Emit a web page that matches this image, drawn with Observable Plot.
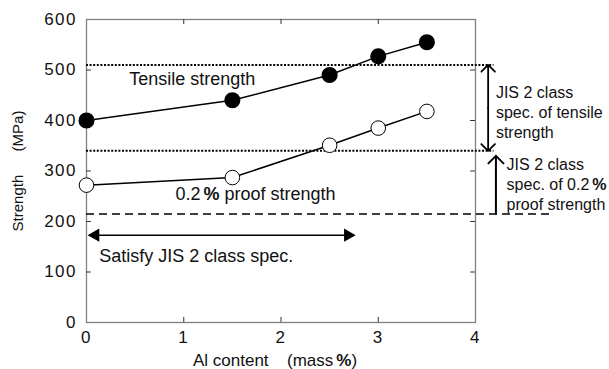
<!DOCTYPE html>
<html><head><meta charset="utf-8">
<script src="https://cdn.jsdelivr.net/npm/d3@7"></script>
<script src="https://cdn.jsdelivr.net/npm/@observablehq/plot@0.6"></script>
<style>body{margin:0;background:#fff} svg{font-family:"Liberation Sans",Arial,sans-serif}</style>
</head><body><div id="chart"></div>
<script>
// Data
const alContent = [0, 1.5, 2.5, 3, 3.5];
const tensileStrength = [400, 440, 490, 527, 555];
const proofStrength = [272, 287, 351, 385, 418];
const xTicks = [0, 1, 2, 3, 4];
const yTicks = [0, 100, 200, 300, 400, 500, 600];
const innerXTicks = [1, 2, 3];
const innerYTicks = [100, 200, 300, 400, 500];
const tensileSpecBounds = [510, 340];   // dotted lines
const proofSpecLevel = 215;             // dashed line
const satisfyRange = [0.03, 2.75];      // horizontal arrow extent (Al mass%)
const satisfyLevel = 173;
const proofArrowTop = 330;

// Annotation anchors (data units)
const labelTexts = ["Tensile strength", "0.2% proof strength", "Satisfy JIS 2 class spec."];
const labelX = [0.44, 0.915, 0.13];
const labelY = [481, 254, 132];
const sideTexts = ["JIS 2 class\nspec. of tensile\nstrength", "JIS 2 class\nspec. of 0.2%\nproof strength"];
const sideX = [4.21, 4.32];
const sideY = [417, 276];
const yTitle = "Strength\u2003\u00a0\u00a0(MPa)";
const xTitle = "Al content\u2003\u200a(mass%)";

const tensileData = alContent.map((x, i) => ({x, y: tensileStrength[i]}));
const proofData = alContent.map((x, i) => ({x, y: proofStrength[i]}));
const labels = labelTexts.map((t, i) => ({t, x: labelX[i], y: labelY[i]}));
const sides = sideTexts.map((t, i) => ({t, x: sideX[i], y: sideY[i]}));
const midTensile = (tensileSpecBounds[0] + tensileSpecBounds[1]) / 2;

const chart = Plot.plot({
  width: 609, height: 369,
  marginLeft: 86, marginRight: 134, marginTop: 19, marginBottom: 47,
  x: {domain: [0, 4]},
  y: {domain: [0, 600]},
  style: {fontFamily: "Liberation Sans, Arial, sans-serif", background: "white"},
  marks: [
    Plot.frame({stroke: "#808080", strokeWidth: 1.3}),
    Plot.ruleX(innerXTicks, {y1: 0, y2: 10, stroke: "#333"}),
    Plot.ruleX(innerXTicks, {y1: 600, y2: 590, stroke: "#333"}),
    Plot.ruleY(innerYTicks, {x1: 0, x2: 0.05, stroke: "#333"}),
    Plot.ruleY(innerYTicks, {x1: 4, x2: 3.95, stroke: "#333"}),
    Plot.axisX(xTicks, {tickSize: 0, tickPadding: 8, fontSize: 17, label: null, fill: "#111"}),
    Plot.axisY(yTicks, {tickSize: 0, tickPadding: 9.5, fontSize: 17, label: null, fill: "#111"}),
    Plot.text([yTitle], {frameAnchor: "left", textAnchor: "middle", lineAnchor: "middle", rotate: -90, dx: -68, fontSize: 15, fill: "#111"}),
    Plot.text([xTitle], {frameAnchor: "bottom", textAnchor: "middle", lineAnchor: "middle", dy: 38, dx: -6, fontSize: 17, fill: "#111"}),
    // spec lines
    Plot.ruleY(tensileSpecBounds, {x1: 0, x2: 4.19, stroke: "black", strokeWidth: 2, strokeDasharray: "2,1.6"}),
    Plot.ruleY([proofSpecLevel], {x1: 0, x2: 4.79, stroke: "black", strokeWidth: 1.6, strokeDasharray: "8,5"}),
    // vertical arrows
    Plot.arrow([{x1: 4.13, y1: midTensile, x2: 4.13, y2: tensileSpecBounds[0]}, {x1: 4.13, y1: midTensile, x2: 4.13, y2: tensileSpecBounds[1]}],
      {x1: "x1", y1: "y1", x2: "x2", y2: "y2", stroke: "black", strokeWidth: 1.8, headLength: 8, headAngle: 90}),
    Plot.arrow([{x1: 4.21, y1: proofSpecLevel, x2: 4.21, y2: proofArrowTop}],
      {x1: "x1", y1: "y1", x2: "x2", y2: "y2", stroke: "black", strokeWidth: 2, headLength: 8, headAngle: 90}),
    // horizontal double arrow
    Plot.ruleY([satisfyLevel], {x1: satisfyRange[0], x2: satisfyRange[1], stroke: "black", strokeWidth: 1.5}),
    Plot.dot([{x: satisfyRange[0], y: satisfyLevel}], {x: "x", y: "y", symbol: "triangle", r: 5, rotate: -90, fill: "black", dx: 6}),
    Plot.dot([{x: satisfyRange[1], y: satisfyLevel}], {x: "x", y: "y", symbol: "triangle", r: 5, rotate: 90, fill: "black", dx: -6}),
    // series
    Plot.line(tensileData, {x: "x", y: "y", stroke: "black", strokeWidth: 1.5}),
    Plot.line(proofData, {x: "x", y: "y", stroke: "black", strokeWidth: 1.5}),
    Plot.dot(tensileData, {x: "x", y: "y", r: 7.3, fill: "black", stroke: "black"}),
    Plot.dot(proofData, {x: "x", y: "y", r: 7.3, fill: "white", stroke: "black", strokeWidth: 1}),
    // labels
    Plot.text(labels, {x: "x", y: "y", text: "t", textAnchor: "start", fontSize: 18, fill: "#111"}),
    Plot.text(sides, {x: "x", y: "y", text: "t", textAnchor: "start", fontSize: 16, lineHeight: 1.25, fill: "#111"})
  ]
});

// wider tick labels, as in the reference
chart.querySelectorAll('[aria-label="x-axis tick label"] text, [aria-label="y-axis tick label"] text')
  .forEach(t => t.setAttribute("letter-spacing", "1.5"));

// make every "%" bold
function boldPercent(root) {
  const walker = document.createTreeWalker(root, NodeFilter.SHOW_TEXT);
  const nodes = [];
  while (walker.nextNode()) if (walker.currentNode.nodeValue.includes("%")) nodes.push(walker.currentNode);
  const ns = "http://www.w3.org/2000/svg";
  for (const n of nodes) {
    const parts = n.nodeValue.split("%");
    const frag = document.createDocumentFragment();
    parts.forEach((p, i) => {
      if (i > 0) {
        const t = document.createElementNS(ns, "tspan");
        t.setAttribute("font-weight", "bold");
        t.setAttribute("dx", "3");
        t.textContent = "%";
        frag.appendChild(t);
      }
      if (p) frag.appendChild(document.createTextNode(p));
    });
    n.parentNode.replaceChild(frag, n);
  }
}
boldPercent(chart);
document.getElementById("chart").appendChild(chart);
</script></body></html>
